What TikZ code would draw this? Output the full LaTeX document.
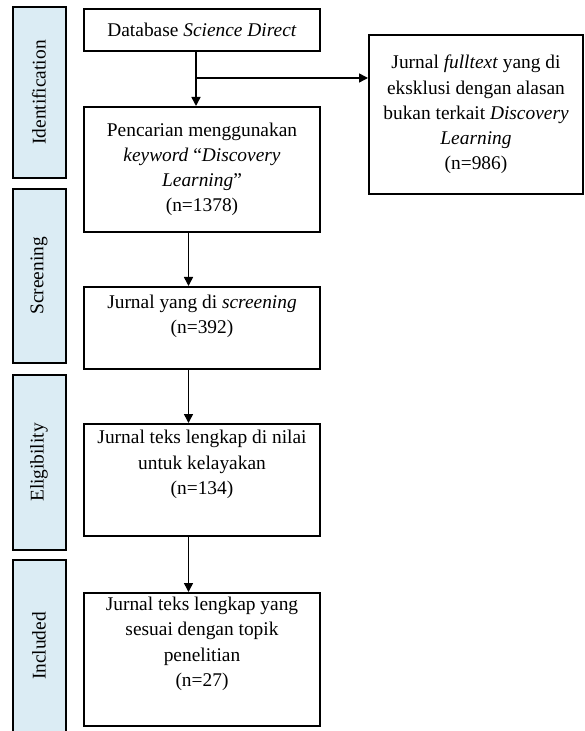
\documentclass[tikz,border=0pt]{standalone}
\usepackage{fontspec}
\setmainfont{Liberation Serif}
\usepackage{tikz}
\usetikzlibrary{positioning,arrows.meta}
\definecolor{PhaseFill}{RGB}{219,236,244}

\begin{document}
\begin{tikzpicture}[
node distance=27pt,
box/.style={rectangle,draw=black,line width=1pt,minimum width=118pt,align=center,inner sep=2pt,font=\fontsize{9.7}{12.6}\selectfont},
phase/.style={rectangle,draw=black,fill=PhaseFill,line width=1pt,rotate=90,minimum height=26.5pt,inner sep=0pt,font=\fontsize{9.7}{12.6}\selectfont},
arrow/.style={-{Triangle[length=4.5pt,width=4.5pt]},line width=0.75pt,draw=black}
]
\useasboundingbox (0,0) rectangle (292pt,-365.5pt);
% phases on the left
\node[phase,minimum width=85.5pt] (pid) at (19.5pt,-46.25pt) {Identification};
\node[phase,minimum width=87pt] (pscr) at (19.5pt,-138pt) {Screening};
\node[phase,minimum width=87.5pt] (pelg) at (19.5pt,-231.25pt) {Eligibility};
\node[phase,minimum width=86pt] (pinc) at (19.5pt,-323pt) {Included};
% main column
\node[box,anchor=north west,minimum height=21pt] (db) at (41.5pt,-4pt) {Database \textit{Science Direct}};
\node[box,below=of db,minimum height=62.5pt] (pen) {Pencarian menggunakan\\\textit{keyword} ``\textit{Discovery}\\\textit{Learning}''\\(n=1378)};
\node[box,below=26.5pt of pen,minimum height=41pt,text depth=13.7pt] (scr) {Jurnal yang di \textit{screening}\\(n=392)};
\node[box,below=26.5pt of scr,minimum height=56pt,text depth=17.7pt] (elg) {Jurnal teks lengkap di nilai\\untuk kelayakan\\(n=134)};
\node[box,below=27.5pt of elg,minimum height=66.5pt,text depth=17.7pt] (inc) {Jurnal teks lengkap yang\\sesuai dengan topik\\penelitian\\(n=27)};
% excluded
\node[box,anchor=north west,minimum width=107pt,minimum height=79.5pt] (exc) at (184pt,-17pt) {Jurnal \textit{fulltext} yang di\\eksklusi dengan alasan\\bukan terkait \textit{Discovery}\\\textit{Learning}\\(n=986)};
\coordinate (split) at ([xshift=-3pt,yshift=-13pt]db.south);
\draw[arrow] ([xshift=-3pt]db.south)--([xshift=-3pt]pen.north);
\draw[arrow] (split)--(split-|exc.west);
\draw[arrow] ([xshift=-6.75pt]pen.south)--([xshift=-6.75pt]scr.north);
\draw[arrow] ([xshift=-6.75pt]scr.south)--([xshift=-6.75pt]elg.north);
\draw[arrow] ([xshift=-6.75pt]elg.south)--([xshift=-6.75pt]inc.north);
\end{tikzpicture}
\end{document}
